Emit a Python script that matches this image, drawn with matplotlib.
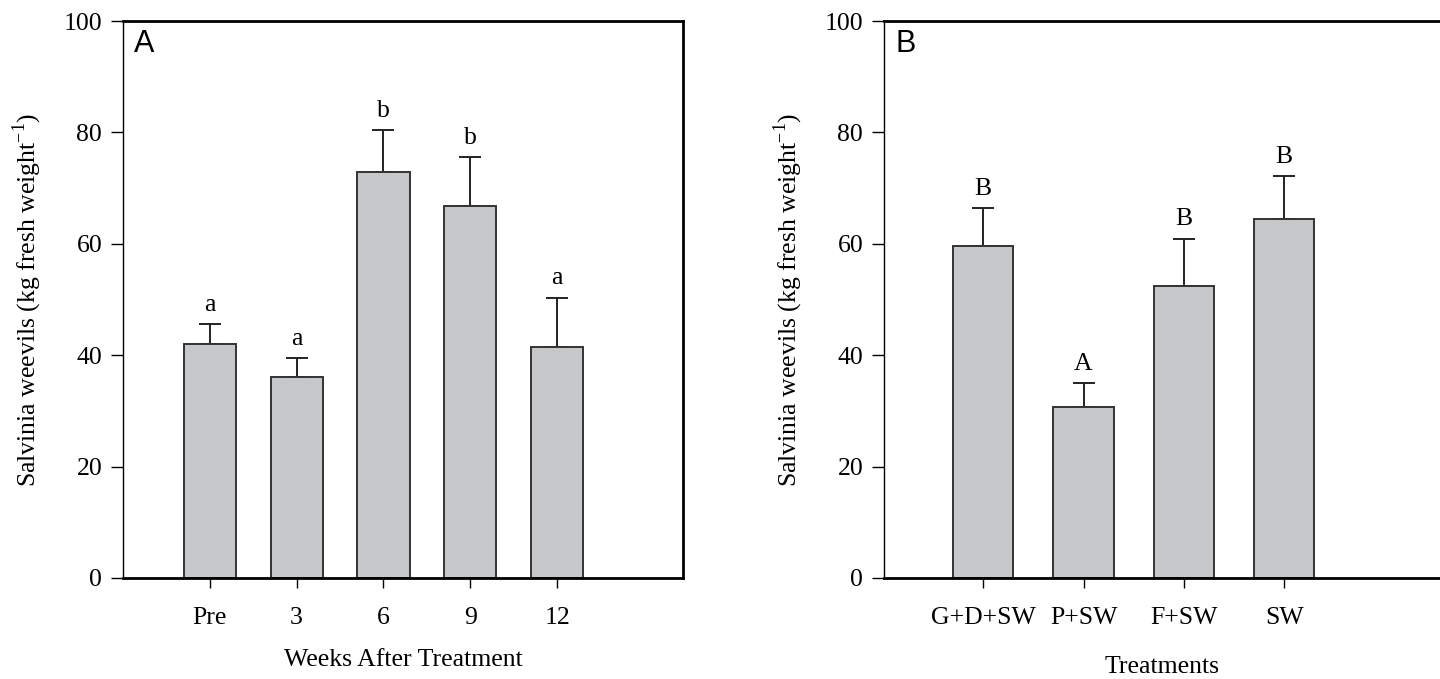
import matplotlib.pyplot as plt
import numpy as np

# panel A - weeks after treatment
weeks = ['Pre', '3', '6', '9', '12']
weeks_mean = [42.0, 36.0, 72.9, 66.7, 41.5]
weeks_err = [3.6, 3.5, 7.5, 8.8, 8.8]
weeks_grp = ['a', 'a', 'b', 'b', 'a']

# panel B - treatments
treat = ['G+D+SW', 'P+SW', 'F+SW', 'SW']
treat_mean = [59.6, 30.7, 52.4, 64.5]
treat_err = [6.8, 4.3, 8.5, 7.7]
treat_grp = ['B', 'A', 'B', 'B']

serif = ['Liberation Serif', 'DejaVu Serif']
plt.rcParams['font.family'] = serif

fig = plt.figure(figsize=(14.4, 6.79), dpi=100)
axA = fig.add_axes([123/1440, 1-578/679, (683-123)/1440, (578-21)/679])
axB = fig.add_axes([884/1440, 1-578/679, (1440-884)/1440, (578-21)/679])

def panel(ax, cats, mean, err, grp, letter, xlim, xlabel, xlabelpad, right_spine):
    x = np.arange(len(cats))
    ax.bar(x, mean, width=0.6, color='#c6c7c9', edgecolor='#333333', linewidth=1.4, zorder=2)
    ax.errorbar(x, mean, yerr=[np.zeros(len(err)), err], fmt='none', ecolor='#222222',
                elinewidth=1.4, capsize=8, capthick=1.4, zorder=1)
    for xi, m, e, g in zip(x, mean, err, grp):
        ax.annotate(g, (xi, m + e), xytext=(0, 6), textcoords='offset points',
                    ha='center', va='bottom', fontsize=18.5)
    ax.set_xlim(*xlim)
    ax.set_ylim(0, 100)
    ax.set_yticks([0, 20, 40, 60, 80, 100])
    ax.set_xticks(x)
    ax.set_xticklabels(cats)
    ax.tick_params(axis='y', direction='out', length=9, width=1, labelsize=18.5, pad=6)
    ax.tick_params(axis='x', direction='out', length=7, width=1, labelsize=18.5, pad=14)
    ax.spines['left'].set_linewidth(1)
    ax.spines['bottom'].set_linewidth(2)
    ax.spines['top'].set_linewidth(2)
    ax.spines['right'].set_linewidth(2)
    ax.spines['right'].set_visible(right_spine)
    ax.set_ylabel('Salvinia weevils (kg fresh weight$^{\\mathregular{-1}}$)', fontsize=18.5, labelpad=14)
    ax.set_xlabel(xlabel, fontsize=18.5, labelpad=xlabelpad)
    ax.text(0.02, 0.985, letter, transform=ax.transAxes, ha='left', va='top',
            fontsize=22, family=['Liberation Sans', 'DejaVu Sans'])

panel(axA, weeks, weeks_mean, weeks_err, weeks_grp, 'A', (-1.0, 5.45),
      'Weeks After Treatment', 14, True)
panel(axB, treat, treat_mean, treat_err, treat_grp, 'B', (-0.99, 4.555),
      'Treatments', 19, False)

fig.savefig('out.png', dpi=100)
